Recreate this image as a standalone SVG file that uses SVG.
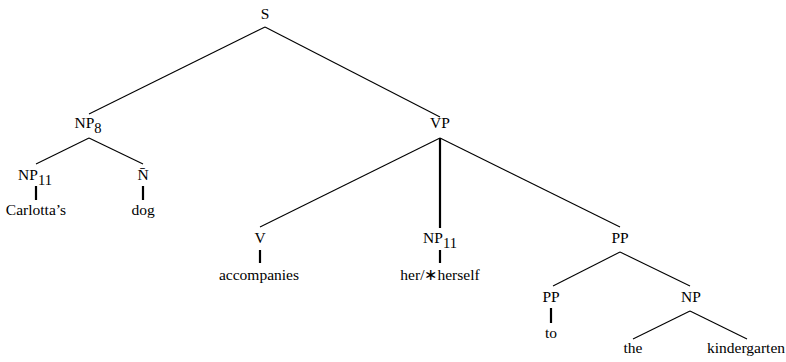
<svg xmlns="http://www.w3.org/2000/svg" width="786" height="362" viewBox="0 0 786 362">
<style>
.t{font-family:'Liberation Serif','Times New Roman',serif;font-size:15.5px;fill:#000;text-anchor:middle}
.sub{font-size:14.5px}
.e{stroke:#000;stroke-width:1.1;fill:none}
.u{stroke:#000;stroke-width:2.2;fill:none}
</style>
<rect width="786" height="362" fill="#fff"/>
<g id="connectors">
<line class="e" x1="265" y1="27" x2="89" y2="114"/>
<line class="e" x1="265" y1="27" x2="440" y2="117"/>
<line class="e" x1="89" y1="138" x2="36" y2="164"/>
<line class="e" x1="89" y1="138" x2="143" y2="164"/>
<line class="u" x1="36" y1="186" x2="36" y2="200"/>
<line class="u" x1="143" y1="186" x2="143" y2="200"/>
<line class="e" x1="440" y1="138" x2="260" y2="227"/>
<line class="u" x1="440" y1="138" x2="440" y2="228"/>
<line class="e" x1="440" y1="138" x2="620" y2="227"/>
<line class="u" x1="260" y1="250" x2="260" y2="263"/>
<line class="u" x1="440" y1="250" x2="440" y2="263"/>
<line class="e" x1="620" y1="252" x2="553" y2="286"/>
<line class="e" x1="620" y1="252" x2="690" y2="286"/>
<line class="u" x1="551" y1="308" x2="551" y2="323"/>
<line class="e" x1="690" y1="311" x2="633" y2="339"/>
<line class="e" x1="690" y1="311" x2="747" y2="339"/>
</g>
<g id="S"><text class="t" x="265" y="19">S</text></g>
<g id="NP8"><text class="t" x="88" y="128">NP<tspan class="sub" dy="5">8</tspan></text></g>
<g id="VP"><text class="t" x="440" y="128">VP</text></g>
<g id="NP11a"><text class="t" x="35" y="180">NP<tspan class="sub" dy="5">11</tspan></text></g>
<g id="Nbar"><text class="t" x="143" y="180">N&#x304;</text></g>
<g id="Carlottas"><text class="t" x="36" y="215">Carlotta’s</text></g>
<g id="dog"><text class="t" x="143" y="215">dog</text></g>
<g id="V"><text class="t" x="260" y="243">V</text></g>
<g id="NP11b"><text class="t" x="440" y="243">NP<tspan class="sub" dy="5">11</tspan></text></g>
<g id="PP1"><text class="t" x="620" y="243">PP</text></g>
<g id="accompanies"><text class="t" x="259" y="280">accompanies</text></g>
<g id="herherself"><text class="t" x="440" y="280">her/∗herself</text></g>
<g id="PP2"><text class="t" x="551" y="302">PP</text></g>
<g id="NP"><text class="t" x="691" y="302">NP</text></g>
<g id="to"><text class="t" x="551" y="338">to</text></g>
<g id="the"><text class="t" x="633" y="353">the</text></g>
<g id="kindergarten"><text class="t" x="746" y="353">kindergarten</text></g>
</svg>
